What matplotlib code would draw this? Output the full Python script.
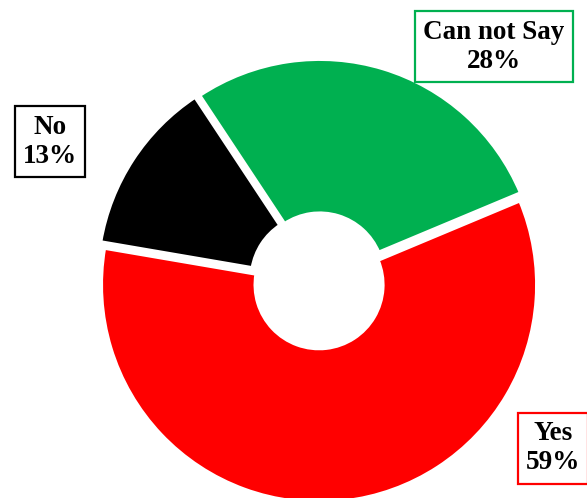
import matplotlib
matplotlib.use("Agg")
import matplotlib.pyplot as plt

# Survey responses
categories = ["Yes", "Can not Say", "No"]
shares = [59, 28, 13]
colors = ["#FF0000", "#00B050", "#000000"]

W, H = 587, 498
R_PX = 217.75                 # outer radius in pixels
CX, CY = 318.6, 280.8         # ring centre in pixels (y from top)

def to_data(px, py):
    return (px - CX) / R_PX, (CY - py) / R_PX

fig = plt.figure(figsize=(W / 100, H / 100), dpi=100)
ax = fig.add_axes([0, 0, 1, 1])

ax.pie(shares, colors=colors, startangle=170.3, counterclock=True,
       radius=1.0, explode=[0.0184] * len(shares),
       wedgeprops=dict(width=0.707, edgecolor="white", linewidth=2.5))

x0, y1 = to_data(0, 0)
x1, y0 = to_data(W, H)
ax.set_xlim(x0, x1)
ax.set_ylim(y0, y1)
ax.set_aspect("equal")
ax.axis("off")

# Label boxes: centre position in pixels
label_pos = {"Yes": (553, 448), "Can not Say": (494, 47), "No": (50, 142)}

for cat, val, col in zip(categories, shares, colors):
    px, py = label_pos[cat]
    x, y = to_data(px, py)
    ax.text(x, y, f"{cat}\n{val}%", ha="center", va="center",
            multialignment="center", fontsize=19.5, fontweight="bold",
            family="Liberation Serif", color="black", linespacing=1.25,
            bbox=dict(boxstyle="square,pad=0.3", facecolor="white",
                      edgecolor=col, linewidth=1.6))

fig.savefig("out.png", dpi=100)
